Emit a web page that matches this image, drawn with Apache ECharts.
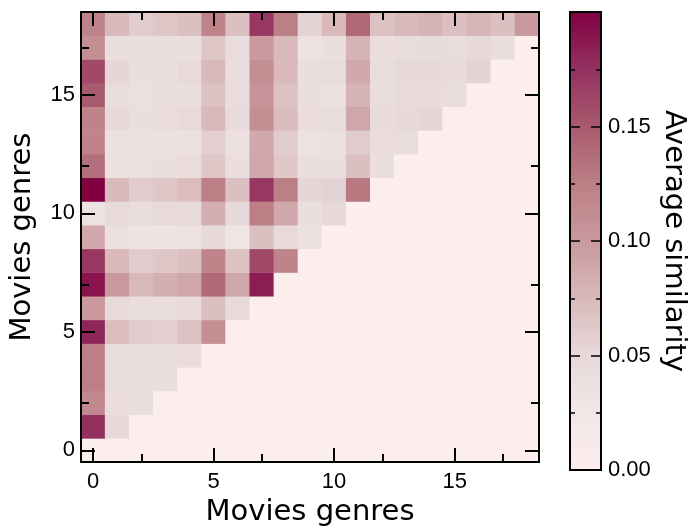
<!DOCTYPE html>
<html>
<head>
<meta charset="utf-8">
<script src="https://cdn.jsdelivr.net/npm/echarts@6/dist/echarts.min.js"></script>
<style>
html,body{margin:0;padding:0;background:#fff;}
#chart{width:697px;height:532px;}
</style>
</head>
<body>
<div id="chart"></div>
<script>
// Genre indices (categories on both axes)
var genres = [0,1,2,3,4,5,6,7,8,9,10,11,12,13,14,15,16,17,18];

// Average similarity, row y holds values for x = 0..y (lower-left triangle)
var row0  = [0];
var row1  = [0.175, 0.05];
var row2  = [0.115, 0.042, 0.04];
var row3  = [0.125, 0.045, 0.043, 0.043];
var row4  = [0.125, 0.045, 0.045, 0.045, 0.042];
var row5  = [0.18, 0.072, 0.06, 0.058, 0.068, 0.11];
var row6  = [0.10, 0.048, 0.043, 0.043, 0.046, 0.07, 0.048];
var row7  = [0.19, 0.10, 0.076, 0.083, 0.09, 0.14, 0.09, 0.185];
var row8  = [0.17, 0.075, 0.06, 0.065, 0.07, 0.12, 0.068, 0.16, 0.12];
var row9  = [0.088, 0.038, 0.03, 0.03, 0.035, 0.05, 0.028, 0.07, 0.048, 0.037];
var row10 = [0.035, 0.048, 0.043, 0.048, 0.048, 0.083, 0.05, 0.125, 0.088, 0.04, 0.05];
var row11 = [0.2, 0.075, 0.06, 0.065, 0.072, 0.125, 0.07, 0.17, 0.125, 0.052, 0.055, 0.13];
var row12 = [0.135, 0.038, 0.038, 0.04, 0.042, 0.065, 0.04, 0.09, 0.063, 0.04, 0.04, 0.07, 0.04];
var row13 = [0.12, 0.037, 0.038, 0.037, 0.037, 0.058, 0.037, 0.088, 0.06, 0.035, 0.038, 0.06, 0.042, 0.045];
var row14 = [0.12, 0.05, 0.04, 0.042, 0.048, 0.075, 0.046, 0.11, 0.073, 0.042, 0.045, 0.09, 0.046, 0.05, 0.052];
var row15 = [0.15, 0.045, 0.038, 0.04, 0.043, 0.068, 0.042, 0.105, 0.068, 0.04, 0.038, 0.08, 0.043, 0.046, 0.046, 0.043];
var row16 = [0.16, 0.052, 0.04, 0.04, 0.048, 0.075, 0.043, 0.11, 0.075, 0.04, 0.045, 0.088, 0.045, 0.05, 0.05, 0.046, 0.055];
var row17 = [0.11, 0.04, 0.04, 0.04, 0.04, 0.065, 0.045, 0.10, 0.075, 0.035, 0.04, 0.08, 0.042, 0.045, 0.047, 0.045, 0.05, 0.043];
var row18 = [0.12, 0.075, 0.06, 0.065, 0.07, 0.12, 0.07, 0.17, 0.125, 0.055, 0.075, 0.14, 0.068, 0.075, 0.08, 0.07, 0.078, 0.07, 0.10];

// Colorbar range, colormap and ticks
var colorMin = 0;
var colorMax = 0.2;
var colorTickStep = 0.05;
var colormap = ['#fdeeee', '#f2e6e6', '#e7d9da', '#d9b9ba', '#c9999d', '#bb7f85', '#a85a6e', '#933060', '#800040'];
var majorTickIdx = [0, 5, 10, 15];
var minorTickIdx = [2, 7, 12, 17];

var rows = [row0,row1,row2,row3,row4,row5,row6,row7,row8,row9,row10,row11,row12,row13,row14,row15,row16,row17,row18];
var cells = [];
for (var y = 0; y < genres.length; y++) {
  for (var x = 0; x < genres.length; x++) {
    var v = x < rows[y].length ? rows[y][x] : 0;
    cells.push([x, y, v]);
  }
}

var FONT = 'Liberation Sans';
var TITLE_FONT = 'DejaVu Sans';
function isMajor(i){ return majorTickIdx.indexOf(i) >= 0; }
function isMinor(i){ return minorTickIdx.indexOf(i) >= 0; }

function catAxis(opts) {
  var major = opts.major;
  var a = {
    type: 'category',
    gridIndex: 0,
    data: genres,
    position: opts.position,
    z: 10,
    axisLine: { show: major, lineStyle: { color: '#000', width: 2 } },
    axisTick: { show: true, inside: true, alignWithLabel: true,
      length: major ? 14 : 8,
      interval: major ? function(i){return isMajor(i);} : function(i){return isMinor(i);},
      lineStyle: { color: '#000', width: 2 } },
    axisLabel: { show: !!opts.labels, interval: function(i){return isMajor(i);},
      color: '#000', fontFamily: FONT, fontSize: 22, margin: opts.margin || 6 },
    splitLine: { show: false }
  };
  if (opts.name) {
    a.name = opts.name;
    a.nameLocation = 'middle';
    a.nameGap = opts.nameGap;
    a.nameTextStyle = { color: '#000', fontFamily: TITLE_FONT, fontSize: 29 };
  }
  return a;
}

function colorAxis(pos, labels) {
  return { type: 'value', gridIndex: 1, position: pos, min: colorMin, max: colorMax, interval: colorTickStep, z: 10,
    axisLine: { show: false },
    axisTick: { show: true, inside: true, length: 10, lineStyle: { color: '#000', width: 1.5 } },
    minorTick: { show: true, splitNumber: 2, length: 5, lineStyle: { color: '#000', width: 1.5 } },
    axisLabel: { show: labels, showMaxLabel: false, margin: 7, color: '#000', fontFamily: FONT, fontSize: 22,
      formatter: function(v){ return v.toFixed(2); } },
    splitLine: { show: false }, minorSplitLine: { show: false } };
}

var stops = colormap.map(function(c, i){ return { offset: i / (colormap.length - 1), color: c }; });

var option = {
  backgroundColor: '#fff',
  animation: false,
  grid: [
    { left: 81, top: 12, width: 458, height: 458 },
    { left: 570, top: 12, width: 31, height: 458 }
  ],
  xAxis: [
    catAxis({ position: 'bottom', major: true, labels: true, margin: 9, name: 'Movies genres', nameGap: 28 }),
    catAxis({ position: 'bottom', major: false }),
    catAxis({ position: 'top', major: true }),
    catAxis({ position: 'top', major: false }),
    { type: 'category', gridIndex: 1, data: ['c'], show: false }
  ],
  yAxis: [
    catAxis({ position: 'left', major: true, labels: true, margin: 6, name: 'Movies genres', nameGap: 44 }),
    catAxis({ position: 'left', major: false }),
    catAxis({ position: 'right', major: true }),
    catAxis({ position: 'right', major: false }),
    colorAxis('right', true),
    colorAxis('left', false)
  ],
  visualMap: {
    type: 'continuous',
    show: false,
    min: colorMin, max: colorMax,
    seriesIndex: 0,
    inRange: { color: colormap }
  },
  graphic: [
    { type: 'rect', z: 0, shape: { x: 570, y: 12, width: 31, height: 458 },
      style: { fill: new echarts.graphic.LinearGradient(0, 1, 0, 0, stops), stroke: '#000', lineWidth: 2 } },
    { type: 'text', x: 674, y: 241, rotation: -Math.PI / 2,
      style: { text: 'Average similarity', fontFamily: TITLE_FONT, fontSize: 29, fill: '#000',
        align: 'center', verticalAlign: 'middle' } }
  ],
  series: [
    { type: 'heatmap', xAxisIndex: 0, yAxisIndex: 0, data: cells,
      emphasis: { disabled: true }, itemStyle: { borderWidth: 0 } }
  ]
};

var chart = echarts.init(document.getElementById('chart'), null, { renderer: 'canvas' });
chart.setOption(option);
</script>
</body>
</html>
